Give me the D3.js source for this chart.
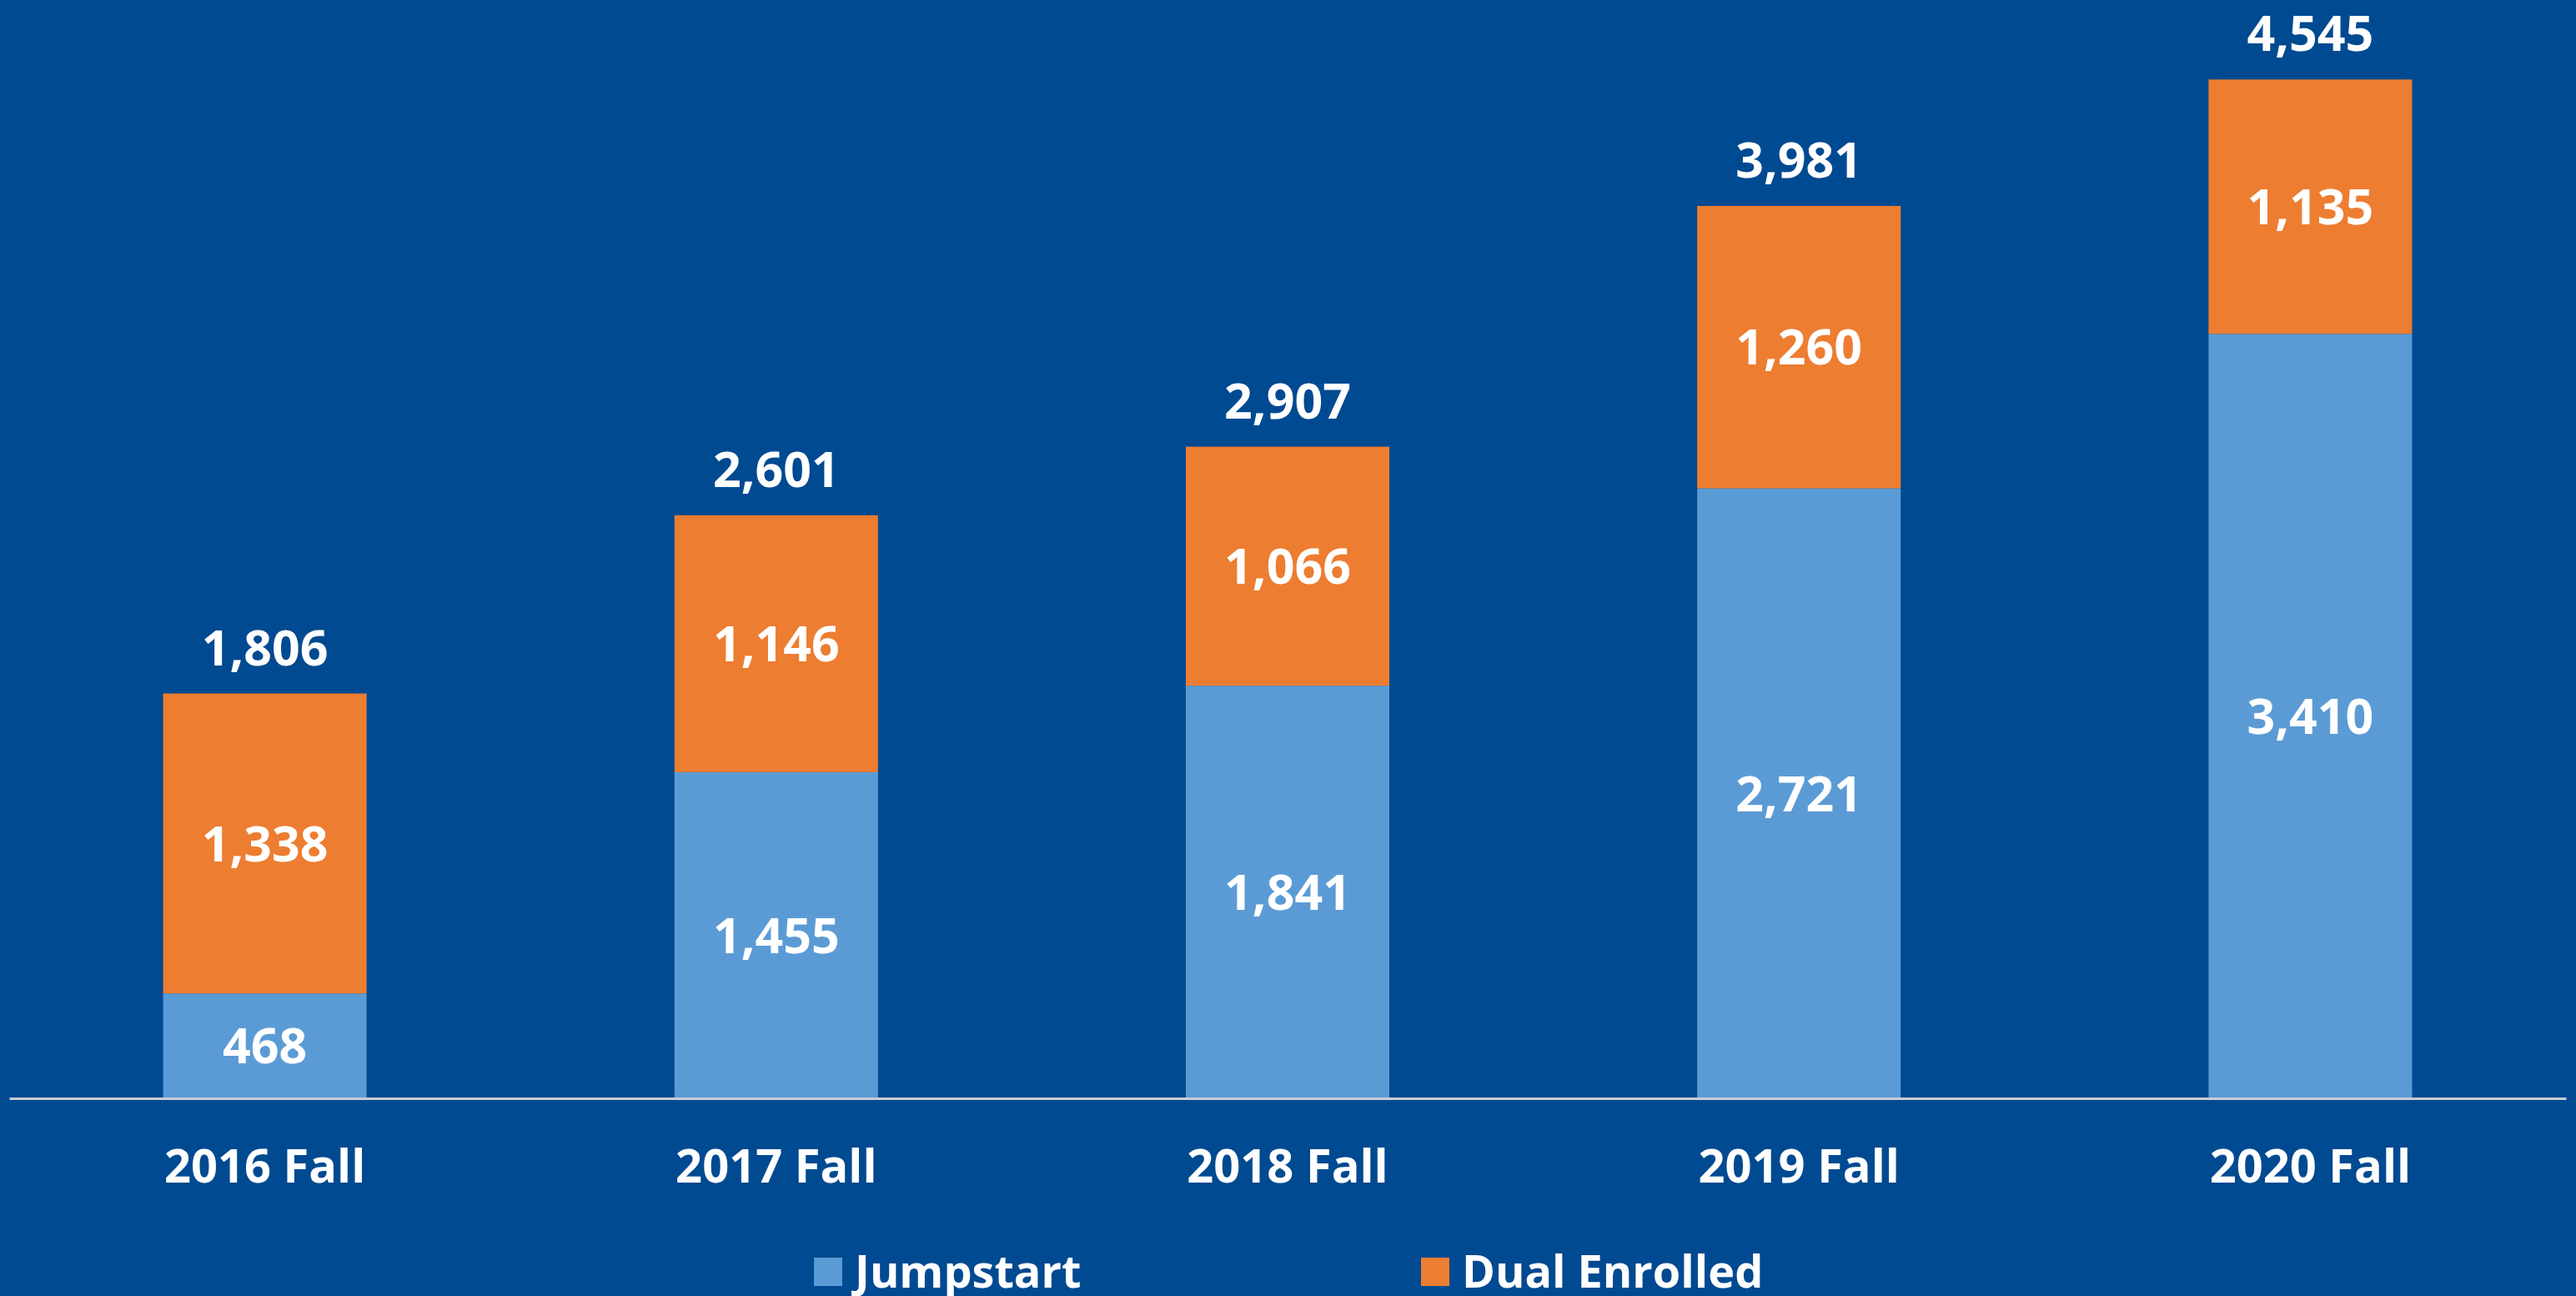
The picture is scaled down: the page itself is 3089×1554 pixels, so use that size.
<!DOCTYPE html>
<html>
<head>
<meta charset="utf-8">
<script src="https://cdn.jsdelivr.net/npm/d3@7"></script>
<style>
  html, body { margin: 0; padding: 0; background: #004a91; }
  svg { display: block; }
  text { font-family: "Open Sans", "Noto Sans", sans-serif; font-weight: 700; fill: #ffffff; }
</style>
</head>
<body>
<div id="chart"></div>
<script>
// Data
const categories = ["2016 Fall", "2017 Fall", "2018 Fall", "2019 Fall", "2020 Fall"];
const jumpstart = [468, 1455, 1841, 2721, 3410];
const dualEnrolled = [1338, 1146, 1066, 1260, 1135];
const seriesNames = ["Jumpstart", "Dual Enrolled"];
const seriesColors = ["#5b9bd5", "#ed7d31"];

const W = 3089, H = 1554;
const margin = { top: 0, right: 12, bottom: 237, left: 11 };
const width = W - margin.left - margin.right,
    height = H - margin.top - margin.bottom;

const svg = d3.select("#chart")
    .append("svg")
    .attr("width", W)
    .attr("height", H);

svg.append("rect")
    .attr("width", W)
    .attr("height", H)
    .attr("fill", "#004a91");

const g = svg.append("g")
    .attr("transform", "translate(" + margin.left + "," + margin.top + ")");

// Build rows for the stack
const rows = categories.map((c, i) => ({
    category: c,
    Jumpstart: jumpstart[i],
    "Dual Enrolled": dualEnrolled[i]
}));

const stacked = d3.stack().keys(seriesNames)(rows);

const x = d3.scaleBand()
    .domain(categories)
    .range([0, width])
    .paddingInner(0.602)
    .paddingOuter(0.301);

// baseline at 1317px, 4545 reaches ~94px
const y = d3.scaleLinear()
    .domain([0, 4900])
    .range([height, height - 4900 * 0.2688]);

const color = d3.scaleOrdinal()
    .domain(seriesNames)
    .range(seriesColors);

// Bars
const layers = g.selectAll(".layer")
    .data(stacked)
    .join("g")
    .attr("class", "layer")
    .attr("fill", d => color(d.key));

layers.selectAll("rect")
    .data(d => d)
    .join("rect")
    .attr("x", d => x(d.data.category))
    .attr("y", d => y(d[1]))
    .attr("width", x.bandwidth())
    .attr("height", d => y(d[0]) - y(d[1]));

// Segment labels
layers.selectAll(".seg-label")
    .data(d => d)
    .join("text")
    .attr("class", "seg-label")
    .attr("x", d => x(d.data.category) + x.bandwidth() / 2)
    .attr("y", d => (y(d[0]) + y(d[1])) / 2)
    .attr("dy", "0.36em")
    .attr("text-anchor", "middle")
    .style("font-size", "59px")
    .text(d => d3.format(",")(d[1] - d[0]));

// Totals above bars
g.selectAll(".total")
    .data(rows)
    .join("text")
    .attr("class", "total")
    .attr("x", d => x(d.category) + x.bandwidth() / 2)
    .attr("y", d => y(d.Jumpstart + d["Dual Enrolled"]) - 34)
    .attr("text-anchor", "middle")
    .style("font-size", "59px")
    .text(d => d3.format(",")(d.Jumpstart + d["Dual Enrolled"]));

// X axis
const xAxis = g.append("g")
    .attr("transform", "translate(0," + height + ")")
    .call(d3.axisBottom(x).tickSize(0).tickPadding(0));

xAxis.select(".domain")
    .attr("stroke", "#c8cdd6")
    .attr("stroke-width", 3);

xAxis.selectAll("text")
    .attr("dy", null)
    .attr("y", 101)
    .attr("fill", "#ffffff")
    .style("font-size", "56px")
    .style("font-family", "'Open Sans', sans-serif")
    .style("font-weight", 700);

// Legend
const legendX = [976, 1704];
const legend = svg.selectAll(".legend")
    .data(seriesNames)
    .join("g")
    .attr("class", "legend")
    .attr("transform", (d, i) => "translate(" + legendX[i] + ",0)");

legend.append("rect")
    .attr("x", 0)
    .attr("y", 1508)
    .attr("width", 34)
    .attr("height", 34)
    .attr("fill", d => color(d));

legend.append("text")
    .attr("x", 49)
    .attr("y", 1544)
    .style("font-size", "54px")
    .text(d => d);
</script>
</body>
</html>
